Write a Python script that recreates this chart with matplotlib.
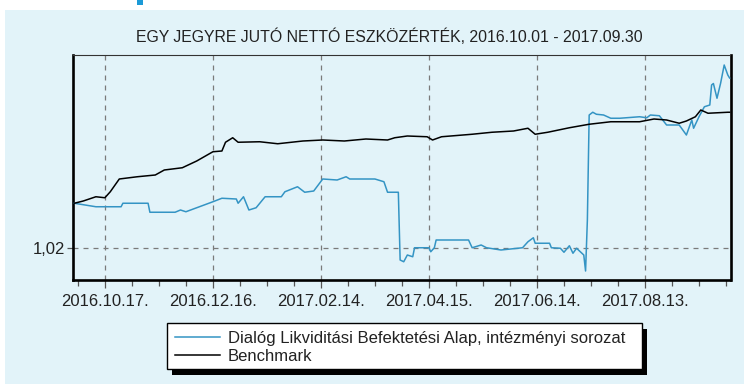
import pandas as pd
import matplotlib.pyplot as plt
import matplotlib.dates as mdates
from matplotlib.patches import Rectangle

# ------------------------------------------------------------
# data: net asset value per unit, fund vs benchmark
# ------------------------------------------------------------
bench_dates = ['2016-09-30', '2016-10-05', '2016-10-12', '2016-10-17', '2016-10-20',
               '2016-10-25', '2016-11-04', '2016-11-14', '2016-11-19', '2016-11-29',
               '2016-12-07', '2016-12-16', '2016-12-21', '2016-12-23', '2016-12-27',
               '2016-12-30', '2017-01-11', '2017-01-21', '2017-02-04', '2017-02-15',
               '2017-02-27', '2017-03-11', '2017-03-23', '2017-03-27', '2017-04-03',
               '2017-04-14', '2017-04-17', '2017-04-22', '2017-05-09', '2017-05-20',
               '2017-06-01', '2017-06-09', '2017-06-13', '2017-06-20', '2017-07-02',
               '2017-07-13', '2017-07-25', '2017-08-10', '2017-08-18', '2017-08-25',
               '2017-09-01', '2017-09-05', '2017-09-10', '2017-09-13', '2017-09-17',
               '2017-09-28', '2017-09-29']
bench_nav = [1.02179, 1.02188, 1.02205, 1.02201, 1.02225,
             1.02276, 1.02285, 1.02292, 1.02312, 1.02321,
             1.02348, 1.02385, 1.02388, 1.02423, 1.02441,
             1.02423, 1.02425, 1.02417, 1.02428, 1.02432,
             1.02428, 1.02436, 1.02432, 1.02441, 1.02448,
             1.02445, 1.02432, 1.02445, 1.02455, 1.02463,
             1.02468, 1.02479, 1.02455, 1.02463, 1.02481,
             1.02495, 1.02505, 1.02505, 1.02516, 1.02512,
             1.02499, 1.02508, 1.02525, 1.02552, 1.02539,
             1.02543, 1.02543]

fund_dates = ['2016-09-30', '2016-10-12', '2016-10-26', '2016-10-27', '2016-11-10',
              '2016-11-11', '2016-11-25', '2016-11-28', '2016-12-01', '2016-12-07',
              '2016-12-16', '2016-12-21', '2016-12-29', '2016-12-30', '2017-01-02',
              '2017-01-05', '2017-01-09', '2017-01-14', '2017-01-23', '2017-01-25',
              '2017-02-01', '2017-02-05', '2017-02-10', '2017-02-15', '2017-02-23',
              '2017-02-28', '2017-03-02', '2017-03-16', '2017-03-21', '2017-03-23',
              '2017-03-29', '2017-03-30', '2017-04-01', '2017-04-03', '2017-04-06',
              '2017-04-07', '2017-04-15', '2017-04-16', '2017-04-18', '2017-04-19',
              '2017-05-07', '2017-05-09', '2017-05-14', '2017-05-17', '2017-05-25',
              '2017-06-06', '2017-06-09', '2017-06-12', '2017-06-13', '2017-06-21',
              '2017-06-22', '2017-06-27', '2017-06-29', '2017-07-02', '2017-07-04',
              '2017-07-06', '2017-07-10', '2017-07-11', '2017-07-12', '2017-07-13',
              '2017-07-15', '2017-07-17', '2017-07-21', '2017-07-25', '2017-07-30',
              '2017-08-10', '2017-08-14', '2017-08-16', '2017-08-21', '2017-08-25',
              '2017-09-01', '2017-09-03', '2017-09-05', '2017-09-08', '2017-09-09',
              '2017-09-12', '2017-09-15', '2017-09-18', '2017-09-19', '2017-09-20',
              '2017-09-22', '2017-09-24', '2017-09-26', '2017-09-28', '2017-09-29']
fund_nav = [1.02179, 1.02165, 1.02165, 1.02179, 1.02179,
            1.02143, 1.02143, 1.02152, 1.02145, 1.02161,
            1.02185, 1.02199, 1.02196, 1.02179, 1.02205,
            1.02152, 1.02161, 1.02205, 1.02205, 1.02225,
            1.02245, 1.02223, 1.02228, 1.02276, 1.02272,
            1.02285, 1.02276, 1.02276, 1.02265, 1.02223,
            1.02223, 1.01952, 1.01945, 1.01972, 1.01965,
            1.02001, 1.02001, 1.01985, 1.02001, 1.02032,
            1.02032, 1.02001, 1.02012, 1.02001, 1.01992,
            1.02001, 1.02025, 1.02041, 1.02019, 1.02019,
            1.02001, 1.01999, 1.01983, 1.02009, 1.01979,
            1.01999, 1.01972, 1.01908, 1.02112, 1.02532,
            1.02543, 1.02535, 1.02532, 1.02519, 1.02519,
            1.02525, 1.02521, 1.02532, 1.02529, 1.02492,
            1.02492, 1.02472, 1.02452, 1.02512, 1.02479,
            1.02525, 1.02565, 1.02572, 1.02652, 1.02658,
            1.02599, 1.02659, 1.02732, 1.02692, 1.02680]

fund_label = 'Dialóg Likviditási Befektetési Alap, intézményi sorozat'
bench_label = 'Benchmark'
title = 'EGY JEGYRE JUTÓ NETTÓ ESZKÖZÉRTÉK, 2016.10.01 - 2017.09.30'

BG = '#e2f3f9'
FUND_COL = '#3494c4'

plt.rcParams['font.family'] = ['Liberation Sans', 'DejaVu Sans']

fig = plt.figure(figsize=(7.44, 3.84), dpi=100, facecolor='white')
W, H = 744, 384

# light panel behind everything
fig.patches.append(Rectangle((5 / W, 0), 1, 1 - 10 / H, transform=fig.transFigure,
                             facecolor=BG, edgecolor='none', zorder=-10))
fig.patches.append(Rectangle((137 / W, 1 - 5 / H), 6 / W, 5 / H, transform=fig.transFigure,
                             facecolor='#1b9ad7', edgecolor='none', zorder=-5))

ax = fig.add_axes([73 / W, 1 - 280 / H, (730.5 - 73) / W, (280 - 55) / H])
ax.set_facecolor(BG)

ax.plot(pd.to_datetime(fund_dates), fund_nav, color=FUND_COL, lw=1.1, label=fund_label, zorder=3)
ax.plot(pd.to_datetime(bench_dates), bench_nav, color='black', lw=1.1, label=bench_label, zorder=4)

ax.set_xlim(pd.Timestamp('2016-09-29 07:00'), pd.Timestamp('2017-09-29 12:00'))
ax.set_ylim(1.01872, 1.02772)

ax.set_xticks(pd.date_range('2016-10-17', periods=6, freq='60D'))
ax.set_xticks(pd.date_range('2016-10-02', '2017-09-29', freq='15D'), minor=True)
ax.xaxis.set_major_formatter(mdates.DateFormatter('%Y.%m.%d.'))
ax.set_yticks([1.02], labels=['1,02'])

ax.grid(True, which='major', color='#7a7a7a', linestyle=(0, (4, 4)), lw=0.9)
ax.tick_params(axis='x', which='major', length=6, width=0.9, color='#555555',
               labelsize=12, pad=4, labelcolor='#222222')
ax.tick_params(axis='x', which='minor', length=4, width=0.9, color='#555555')
ax.tick_params(axis='y', length=4, width=0.9, color='#555555', labelsize=12, pad=2,
               labelcolor='#222222')

for side in ['left', 'bottom', 'right']:
    ax.spines[side].set_linewidth(1.9)
ax.spines['top'].set_linewidth(0.8)
ax.spines['top'].set_color('#333333')

fig.text(389 / W, 1 - 37 / H, title, ha='center', va='center', fontsize=11.4, color='#222222')

# legend box with a hard black drop shadow
lx0, lx1, ly0, ly1 = 167, 642, 323, 369
fig.patches.append(Rectangle(((lx0 + 5) / W, 1 - (ly1 + 6) / H), (lx1 - lx0) / W, (ly1 - ly0) / H,
                             transform=fig.transFigure, facecolor='black', edgecolor='none', zorder=1))
fig.patches.append(Rectangle((lx0 / W, 1 - ly1 / H), (lx1 - lx0) / W, (ly1 - ly0) / H,
                             transform=fig.transFigure, facecolor='white', edgecolor='black',
                             lw=1.0, zorder=2))
handles, labels = ax.get_legend_handles_labels()
leg = fig.legend(handles, labels, loc='upper left', bbox_to_anchor=(175 / W, 1 - 331 / H),
                 frameon=False, fontsize=12, handlelength=2.7, handletextpad=0.45,
                 labelspacing=0.16, borderpad=0, borderaxespad=0)
for t in leg.get_texts():
    t.set_color('#222222')

fig.savefig('out.png', dpi=100, facecolor='white')
